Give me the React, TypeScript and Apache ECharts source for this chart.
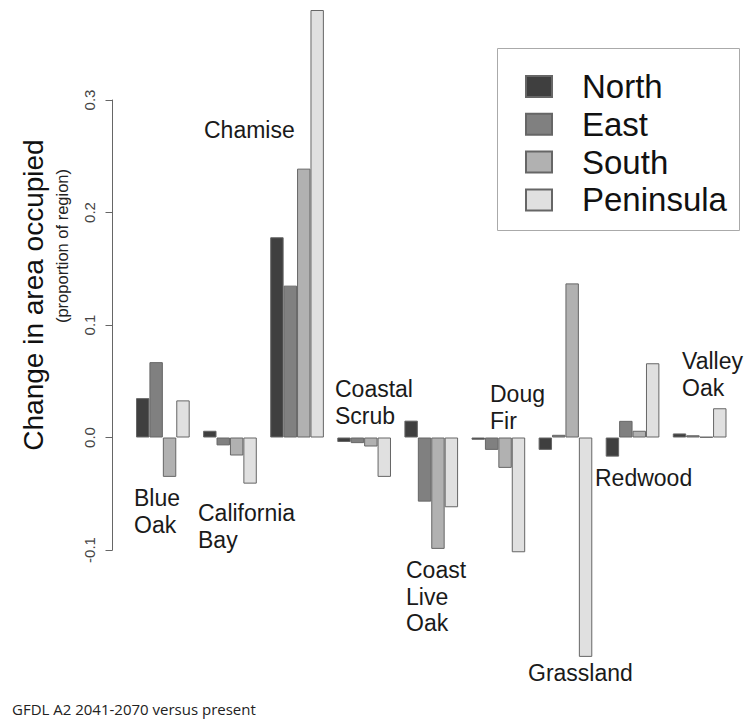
import React, { useEffect, useRef } from "react";
import * as echarts from "echarts";

const categories = [
  "Blue Oak",
  "California Bay",
  "Chamise",
  "Coastal Scrub",
  "Coast Live Oak",
  "Doug Fir",
  "Grassland",
  "Redwood",
  "Valley Oak",
];
const regions = ["North", "East", "South", "Peninsula"];
const north = [0.035, 0.006, 0.178, -0.004, 0.015, -0.002, -0.011, -0.017, 0.0036];
const east = [0.067, -0.007, 0.135, -0.005, -0.057, -0.011, 0.0024, 0.0148, 0.002];
const south = [-0.035, -0.016, 0.239, -0.008, -0.099, -0.027, 0.137, 0.006, 0.0005];
const peninsula = [0.033, -0.041, 0.38, -0.035, -0.062, -0.102, -0.195, 0.066, 0.026];
const regionColors = ["#3f3f3f", "#808080", "#b1b1b1", "#e0e0e0"];
const yTicks = [-0.1, 0.0, 0.1, 0.2, 0.3];

const speciesLabels: { lines: string[]; x: number; y: number }[] = [
  { lines: ["Blue", "Oak"], x: 134, y: 498 },
  { lines: ["California", "Bay"], x: 198, y: 513 },
  { lines: ["Chamise"], x: 204, y: 130 },
  { lines: ["Coastal", "Scrub"], x: 335, y: 389 },
  { lines: ["Coast", "Live", "Oak"], x: 406, y: 570 },
  { lines: ["Doug", "Fir"], x: 490, y: 394 },
  { lines: ["Grassland"], x: 528, y: 673 },
  { lines: ["Redwood"], x: 595, y: 478 },
  { lines: ["Valley", "Oak"], x: 682, y: 361 },
];

const FONT = "'Liberation Sans', Arial, Helvetica, sans-serif";

export default function App() {
  const ref = useRef<HTMLDivElement>(null);
  useEffect(() => {
    document.body.style.margin = "0";
    if (!ref.current) return;
    const chart = echarts.init(ref.current, undefined, { renderer: "svg" });
    const seriesData = [north, east, south, peninsula];
    const lineH = 26.5;
    const graphics: any[] = [];
    speciesLabels.forEach((l) => {
      l.lines.forEach((t, i) => {
        graphics.push({
          type: "text",
          x: l.x,
          y: l.y + i * lineH,
          silent: true,
          style: {
            text: t,
            font: `23px ${FONT}`,
            fill: "#1a1a1a",
            textAlign: "left",
            textVerticalAlign: "middle",
          },
        });
      });
    });
    graphics.push({
      type: "text",
      x: 33,
      y: 295,
      rotation: Math.PI / 2,
      silent: true,
      style: {
        text: "Change in area occupied",
        font: `28px ${FONT}`,
        fill: "#111",
        textAlign: "center",
        textVerticalAlign: "middle",
      },
    });
    graphics.push({
      type: "text",
      x: 62,
      y: 246,
      rotation: Math.PI / 2,
      silent: true,
      style: {
        text: "(proportion of region)",
        font: `16.5px ${FONT}`,
        fill: "#222",
        textAlign: "center",
        textVerticalAlign: "middle",
      },
    });
    graphics.push({
      type: "text",
      x: 12,
      y: 709,
      silent: true,
      style: {
        text: "GFDL A2 2041-2070 versus present",
        font: `15px 'Open Sans', sans-serif`,
        fill: "#222",
        textAlign: "left",
        textVerticalAlign: "middle",
      },
    });
    graphics.push({
      type: "rect",
      shape: { x: 497.5, y: 48.5, width: 242, height: 182 },
      silent: true,
      z: -1,
      style: { fill: "#fff", stroke: "#aaa", lineWidth: 1 },
    });

    chart.setOption({
      animation: false,
      backgroundColor: "#fff",
      grid: { left: 129.3, top: 100, width: 603.9, height: 450 },
      xAxis: {
        type: "category",
        data: categories,
        axisLine: { show: false },
        axisTick: { show: false },
        axisLabel: { show: false },
        splitLine: { show: false },
      },
      yAxis: {
        type: "value",
        min: yTicks[0],
        max: yTicks[yTicks.length - 1],
        interval: 0.1,
        offset: 16.8,
        axisLine: { show: true, lineStyle: { color: "#666", width: 1 } },
        axisTick: { show: true, length: 7, lineStyle: { color: "#666" } },
        axisLabel: {
          rotate: 90,
          margin: 16,
          fontSize: 15,
          fontFamily: FONT,
          color: "#444",
          formatter: (v: number) => v.toFixed(1),
        },
        splitLine: { show: false },
      },
      legend: {
        orient: "vertical",
        left: 525,
        top: 70,
        padding: 0,
        itemWidth: 26,
        itemHeight: 21,
        itemGap: 4.8,
        icon: "rect",
        data: regions,
        textStyle: {
          fontSize: 33,
          lineHeight: 33,
          fontFamily: FONT,
          color: "#111",
          padding: [0, 0, 0, 25],
        },
      },
      graphic: graphics,
      series: regions.map((r, i) => ({
        name: r,
        type: "bar",
        data: seriesData[i],
        clip: false,
        barGap: "0%",
        barCategoryGap: "20%",
        itemStyle: { color: regionColors[i], borderColor: "#666", borderWidth: 1 },
      })),
    });
    return () => chart.dispose();
  }, []);
  return <div ref={ref} style={{ width: 744, height: 721 }} />;
}
